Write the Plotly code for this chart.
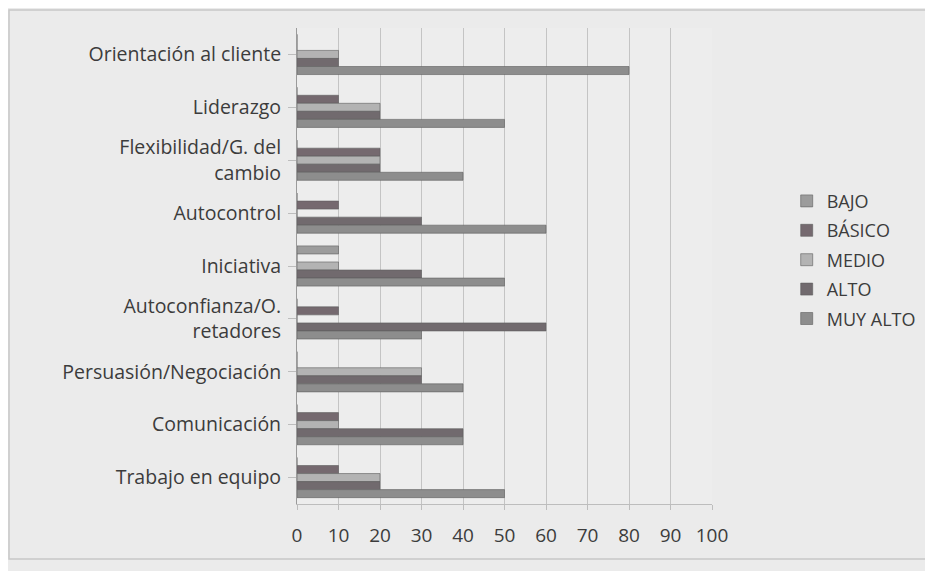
import plotly.graph_objects as go

categories = ["Orientación al cliente", "Liderazgo", "Flexibilidad/G. del<br>cambio",
              "Autocontrol", "Iniciativa", "Autoconfianza/O.<br>retadores",
              "Persuasión/Negociación", "Comunicación", "Trabajo en equipo"]
series_names = ["BAJO", "BÁSICO", "MEDIO", "ALTO", "MUY ALTO"]
bajo     = [0, 0, 0, 0, 10, 0, 0, 0, 0]
basico   = [0, 10, 20, 10, 0, 10, 0, 10, 10]
medio    = [10, 20, 20, 0, 10, 0, 30, 10, 20]
alto     = [10, 20, 20, 30, 30, 60, 30, 40, 20]
muy_alto = [80, 50, 40, 60, 50, 30, 40, 40, 50]
x_ticks = [0, 10, 20, 30, 40, 50, 60, 70, 80, 90, 100]

values = [bajo, basico, medio, alto, muy_alto]
colors = ["#9c9c9c", "#75696f", "#b3b3b3", "#716a6e", "#8d8d8d"]

fig = go.Figure()
for name, vals, col in zip(series_names, values, colors):
    fig.add_trace(go.Bar(
        y=categories, x=vals, name=name, orientation="h", legendgroup=name,
        marker=dict(color=col, line=dict(color="#5e5e5e", width=0.6)),
    ))

font_family = "Open Sans, Liberation Sans, sans-serif"
fig.update_layout(
    width=925, height=563,
    margin=dict(l=289, r=221, t=20, b=67),
    paper_bgcolor="#ebebeb", plot_bgcolor="#ededed",
    barmode="group", bargap=0.24, bargroupgap=0,
    font=dict(family=font_family, size=19, color="#3c3c3c"),
    legend=dict(x=1.18, y=0.675, xanchor="left", yanchor="top",
                traceorder="grouped", font=dict(size=18, color="#3c3c3c"),
                itemwidth=30, tracegroupgap=3, bgcolor="rgba(0,0,0,0)"),
    showlegend=True,
)
fig.update_xaxes(range=[0, 100], tickvals=x_ticks, showgrid=True,
                 gridcolor="#c4c4c4", gridwidth=1, zeroline=False,
                 showline=True, linecolor="#bdbdbd", ticks="outside",
                 tickcolor="#bdbdbd", ticklen=5, ticklabelstandoff=9,
                 tickfont=dict(size=19, color="#3c3c3c"), fixedrange=True)
fig.update_yaxes(autorange="reversed", showgrid=False, showline=True,
                 linecolor="#9a9a9a", ticks="outside", tickcolor="#bdbdbd",
                 ticklen=8, ticklabelstandoff=3,
                 tickfont=dict(size=19.5, color="#3c3c3c"))

fig.add_shape(type="rect", xref="paper", yref="paper",
              x0=(9 - 297) / 415, x1=(931 - 297) / 415,
              y0=(504 - 559) / 476, y1=(504 - 10) / 476,
              line=dict(color="#c8c8c8", width=1.5), layer="below")

fig.write_html("out.html")
